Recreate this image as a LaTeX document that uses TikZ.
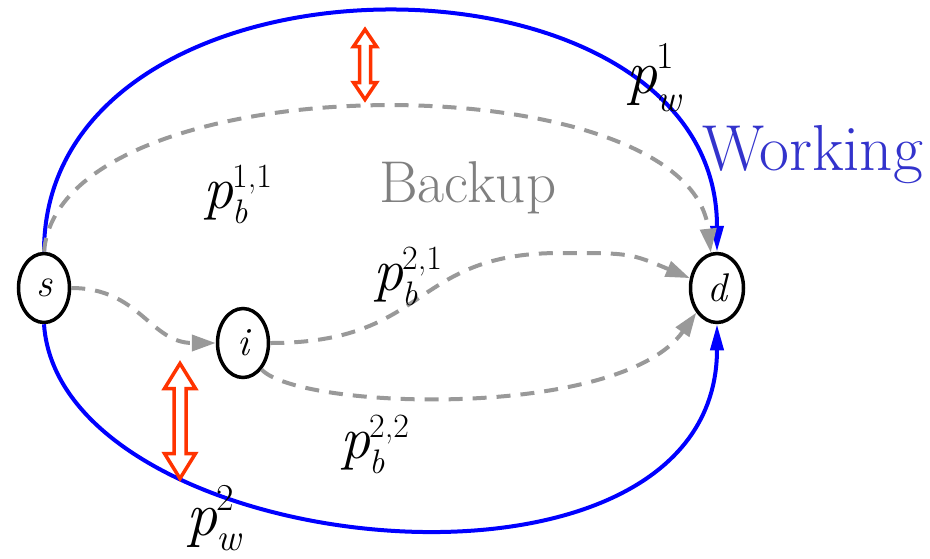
\documentclass[tikz,border=0pt]{standalone}
\usepackage{fontspec}
\newcommand{\tms}{\rmfamily}
\usetikzlibrary{arrows.meta,shapes.geometric}
\definecolor{wblue}{RGB}{0,0,255}
\definecolor{wtext}{RGB}{51,51,204}
\definecolor{bgray}{RGB}{153,153,153}
\definecolor{btext}{RGB}{128,128,128}
\definecolor{hred}{RGB}{255,51,0}
\newcommand{\plab}[6]{{\fontsize{#1pt}{#1pt}\selectfont\tms\itshape p}\kern-1pt\rlap{\raisebox{#5pt}{\fontsize{#2pt}{#2pt}\selectfont\tms #3}}\raisebox{-#6pt}{\fontsize{#2pt}{#2pt}\selectfont\tms\itshape #4}}
\tikzset{
  vtx/.style={ellipse, draw=black, line width=3.5pt, inner sep=0pt, minimum width=51pt, minimum height=69pt, font=\fontsize{40pt}{40pt}\selectfont\tms\itshape},
  work/.style={draw=wblue, line width=4pt, -{Triangle[length=26pt,width=13pt]}},
  bak/.style={draw=bgray, line width=4pt, dash pattern=on 14pt off 10pt, -{Triangle[length=24pt,width=16pt]}},
  harrow/.style={draw=hred, line width=3.5pt, fill=white, line join=miter},
  lbl/.style={anchor=base west, inner sep=0pt}
}
\begin{document}
\begin{tikzpicture}[x=1pt,y=-1pt,font=\tms]
\useasboundingbox (0,0) rectangle (930,558);
\node[vtx] (s) at (44,288) {s};
\node[vtx] (i) at (243,343) {i};
\node[vtx, minimum width=53pt] (d) at (717,288) {d};

% working paths
\draw[work] (s.north) .. controls (44,-67) and (717,-67) .. (d.north);
\draw[work] (s.south) .. controls (60,560) and (717,630) .. (d.south);

% backup paths
\draw[bak] (s.north) .. controls (60,60) and (690,60) .. (d.100);
\draw[bak] (s.east) .. controls (140,288) and (150,343) .. (i.west);
\draw[bak] (i.east) .. controls (430,343) and (410,253) .. (560,253) .. controls (630,253) .. (d.160);
\draw[bak] (i.-55) .. controls (300,410) and (620,420) .. (d.-130);

% red double arrows
\draw[harrow] (365,29.5) -- (376.5,46.5) -- (370.5,46.5) -- (370.5,82.5) -- (376.5,82.5) -- (365,99.5) -- (353.5,82.5) -- (359.5,82.5) -- (359.5,46.5) -- (353.5,46.5) -- cycle;
\draw[harrow] (180,363.5) -- (195.5,388.5) -- (186,388.5) -- (186,453.5) -- (195.5,453.5) -- (180,478.5) -- (164.5,453.5) -- (174,453.5) -- (174,388.5) -- (164.5,388.5) -- cycle;

% labels
\node[lbl] (pw1) at (626,93) {\plab{62}{38}{1}{w}{25}{18}};
\node[lbl] (pw2) at (186,535) {\plab{62}{38}{2}{w}{25}{15}};
\node[lbl] (pb11) at (203,208) {\plab{60}{34}{1,1}{b}{21}{15}};
\node[lbl] (pb21) at (373,290) {\plab{60}{34}{2,1}{b}{21}{15}};
\node[lbl] (pb22) at (340,458) {\plab{60}{34}{2,2}{b}{21}{15}};
\node[lbl, text=wtext, font=\fontsize{65pt}{65pt}\selectfont\tms] (wk) at (702,170) {Working};
\node[lbl, text=btext, font=\fontsize{59pt}{59pt}\selectfont\tms] (bk) at (379,202) {Backup};
\end{tikzpicture}
\end{document}
